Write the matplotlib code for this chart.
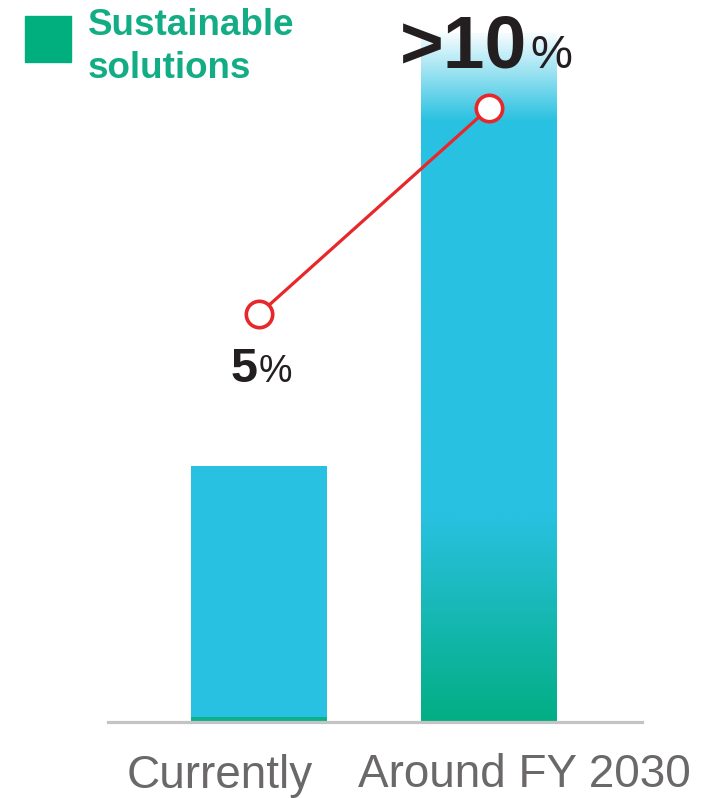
import numpy as np
import matplotlib
matplotlib.use("Agg")
import matplotlib.pyplot as plt
from matplotlib.colors import LinearSegmentedColormap

plt.rcParams['font.family'] = ['Liberation Sans', 'DejaVu Sans']

# data
categories = ["Currently", "Around FY 2030"]
bar_totals = [1.0, 2.69]          # relative size of the business
sustainable_part = [0.02, 0.0]    # green strip at bottom of the first bar
share_values = [5, 10]            # share of sustainable solutions (%)
share_labels = ["5", ">10"]

W, H = 727, 798
fig = plt.figure(figsize=(W / 100, H / 100), dpi=100)

# axes: baseline at y=722px, spanning x 108..642px
ax = fig.add_axes([108 / W, (H - 722) / H, (642 - 108) / W, 722 / H])

blue = "#29C1E1"
green = "#03AE84"
x = np.arange(len(categories))
width = 0.59

# first bar: green strip + blue remainder
ax.bar(x[0], sustainable_part[0], width, color="#0AB18A", zorder=2)
ax.bar(x[0], bar_totals[0] - sustainable_part[0], width,
       bottom=sustainable_part[0], color=blue, zorder=2)

# second bar: gradient fill clipped to the bar
bar2 = ax.bar(x[1], bar_totals[1], width, color="none", zorder=2)[0]
cmap = LinearSegmentedColormap.from_list(
    "grad", [(0.0, green), (0.30, blue), (0.874, blue), (1.0, "#F4FCFE")])
grad = np.linspace(0, 1, 256).reshape(-1, 1)
im = ax.imshow(grad, cmap=cmap, aspect="auto", origin="lower",
               extent=[x[1] - width / 2, x[1] + width / 2, 0, bar_totals[1]],
               zorder=2)
im.set_clip_path(bar2)
ax.set_xlim(-0.657, 1.665)
ax.set_ylim(0, 2.82)

for s in ["top", "right", "left"]:
    ax.spines[s].set_visible(False)
ax.spines["bottom"].set_color("#C4C4C4")
ax.spines["bottom"].set_linewidth(2.3)
ax.spines["bottom"].set_zorder(3)
ax.set_xticks([])
ax.set_yticks([])
ax.patch.set_alpha(0)

# share line on twin axis
ax2 = ax.twinx()
ax2.set_ylim(-4.9, 12.62)
ax2.axis("off")
ax2.plot(x, share_values, color="#E8272B", lw=2.3, marker="o", ms=19,
         mfc="white", mec="#E8272B", mew=2.6, zorder=5)

# value labels: bold number + smaller percent sign
ax2.annotate(share_labels[0], (x[0], share_values[0]), xytext=(-2, -68),
             textcoords="offset pixels", ha="right", va="baseline",
             fontsize=35, fontweight="bold", color="#231F20")
ax2.annotate("%", (x[0], share_values[0]), xytext=(0, -68),
             textcoords="offset pixels", ha="left", va="baseline",
             fontsize=27, color="#231F20")
ax2.annotate(share_labels[1], (x[1], share_values[1]), xytext=(38, 40),
             textcoords="offset pixels", ha="right", va="baseline",
             fontsize=54, fontweight="bold", color="#231F20")
ax2.annotate("%", (x[1], share_values[1]), xytext=(41, 40),
             textcoords="offset pixels", ha="left", va="baseline",
             fontsize=34, color="#231F20")

# category labels
fig.text(220 / W, 1 - 788 / H, categories[0], ha="center", va="baseline",
         fontsize=33, color="#6B6869")
fig.text(524 / W, 1 - 787 / H, categories[1], ha="center", va="baseline",
         fontsize=33, color="#6B6869")

# legend
fig.patches.append(plt.Rectangle((25 / W, 1 - 62 / H), 46 / W, 46 / H,
                                 transform=fig.transFigure, color="#00AE7E"))
fig.text(88 / W, 1 - 35 / H, "Sustainable", ha="left", va="baseline",
         fontsize=26.5, fontweight="bold", color="#12AD84")
fig.text(88 / W, 1 - 78 / H, "solutions", ha="left", va="baseline",
         fontsize=26.5, fontweight="bold", color="#12AD84")

fig.savefig("out.png", dpi=100)
